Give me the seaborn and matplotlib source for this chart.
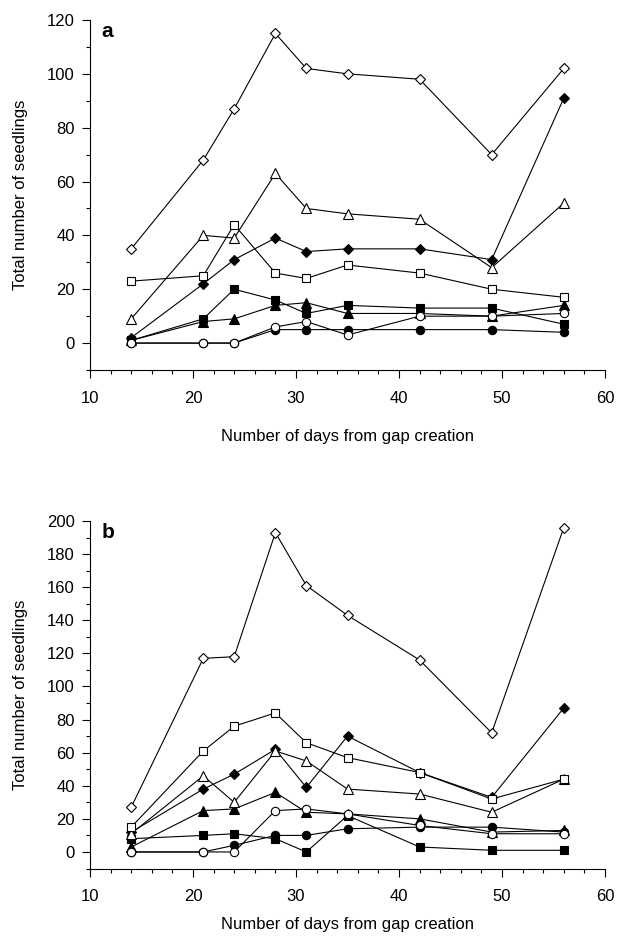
import matplotlib
matplotlib.use("Agg")
import matplotlib.pyplot as plt
from matplotlib.ticker import MultipleLocator
import pandas as pd
import seaborn as sns

# Sampling days after gap creation
days = [14, 21, 24, 28, 31, 35, 42, 49, 56]

# Panel a: total seedlings per treatment
a_filled_circle = [0, 0, 0, 5, 5, 5, 5, 5, 4]
a_filled_square = [1, 9, 20, 16, 11, 14, 13, 13, 7]
a_filled_triangle = [1, 8, 9, 14, 15, 11, 11, 10, 14]
a_filled_diamond = [2, 22, 31, 39, 34, 35, 35, 31, 91]
a_open_triangle = [9, 40, 39, 63, 50, 48, 46, 28, 52]
a_open_square = [23, 25, 44, 26, 24, 29, 26, 20, 17]
a_open_circle = [0, 0, 0, 6, 8, 3, 10, 10, 11]
a_open_diamond = [35, 68, 87, 115, 102, 100, 98, 70, 102]

# Panel b: total seedlings per treatment
b_filled_circle = [0, 0, 4, 10, 10, 14, 15, 15, 12]
b_filled_square = [8, 10, 11, 8, 0, 22, 3, 1, 1]
b_filled_triangle = [3, 25, 26, 36, 24, 23, 20, 12, 13]
b_filled_diamond = [12, 38, 47, 62, 39, 70, 48, 33, 87]
b_open_triangle = [11, 46, 30, 61, 55, 38, 35, 24, 44]
b_open_square = [15, 61, 76, 84, 66, 57, 48, 32, 44]
b_open_circle = [0, 0, 0, 25, 26, 23, 16, 11, 11]
b_open_diamond = [27, 117, 118, 193, 161, 143, 116, 72, 196]

# marker, face colour, size for each series (drawing order)
styles = {
    "filled_circle": ("o", "black", 6),
    "filled_square": ("s", "black", 5.5),
    "filled_triangle": ("^", "black", 6.5),
    "filled_diamond": ("D", "black", 5.5),
    "open_triangle": ("^", "white", 6.5),
    "open_square": ("s", "white", 5.5),
    "open_circle": ("o", "white", 6),
    "open_diamond": ("D", "white", 5.5),
}

panel_a = pd.DataFrame({
    "day": days,
    "filled_circle": a_filled_circle,
    "filled_square": a_filled_square,
    "filled_triangle": a_filled_triangle,
    "filled_diamond": a_filled_diamond,
    "open_triangle": a_open_triangle,
    "open_square": a_open_square,
    "open_circle": a_open_circle,
    "open_diamond": a_open_diamond,
})
panel_b = pd.DataFrame({
    "day": days,
    "filled_circle": b_filled_circle,
    "filled_square": b_filled_square,
    "filled_triangle": b_filled_triangle,
    "filled_diamond": b_filled_diamond,
    "open_triangle": b_open_triangle,
    "open_square": b_open_square,
    "open_circle": b_open_circle,
    "open_diamond": b_open_diamond,
})

sns.set_style("ticks")
plt.rcParams["font.family"] = ["Liberation Sans", "DejaVu Sans"]
plt.rcParams.update({
    "text.color": "black",
    "axes.labelcolor": "black",
    "xtick.color": "black",
    "ytick.color": "black",
    "axes.edgecolor": "black",
})

W, H = 621, 941
fig = plt.figure(figsize=(W / 100, H / 100), dpi=100)

# axes boxes in pixels: left, top, right, bottom
boxes = [(90, 20, 605, 370), (90, 521, 605, 868.5)]
panels = [(panel_a, "a", 120, 437), (panel_b, "b", 200, 925)]

for (l, t, r, b), (df, letter, ytop, xlab_y) in zip(boxes, panels):
    ax = fig.add_axes([l / W, 1 - b / H, (r - l) / W, (b - t) / H])
    for name, (mk, fc, ms) in styles.items():
        sns.lineplot(data=df, x="day", y=name, ax=ax, color="black",
                     linewidth=0.8, marker=mk, markersize=ms,
                     markerfacecolor=fc, markeredgecolor="black",
                     markeredgewidth=0.8, legend=False)
    ax.set_xlim(10, 60)
    ax.set_ylim(-10, ytop)
    ax.xaxis.set_major_locator(MultipleLocator(10))
    ax.xaxis.set_minor_locator(MultipleLocator(2))
    ax.yaxis.set_major_locator(MultipleLocator(20))
    ax.yaxis.set_minor_locator(MultipleLocator(10))
    ax.set_yticks([v for v in range(0, ytop + 1, 20)])
    ax.tick_params(which="major", direction="out", length=6, width=0.8,
                   labelsize=12, color="black", labelcolor="black")
    ax.tick_params(which="minor", direction="out", length=3, width=0.8,
                   color="black")
    ax.tick_params(axis="x", which="major", pad=9)
    ax.tick_params(axis="y", which="major", pad=5)
    for side in ("top", "right"):
        ax.spines[side].set_visible(False)
    for side in ("left", "bottom"):
        ax.spines[side].set_linewidth(0.8)
        ax.spines[side].set_color("black")

    ax.set_xlabel("Number of days from gap creation", fontsize=12,
                  color="black")
    ax.set_ylabel("Total number of seedlings", fontsize=12, color="black")
    ax.xaxis.label.set_va("center")
    ax.yaxis.label.set_va("center")
    ax.xaxis.set_label_coords(0.5, (b - xlab_y) / (b - t))
    ax.yaxis.set_label_coords((21 - l) / (r - l), 0.5)

    ax.text(0.022, 0.995, letter, transform=ax.transAxes, ha="left",
            va="top", fontsize=15, fontweight="bold", color="black")

fig.savefig("out.png", dpi=100)
